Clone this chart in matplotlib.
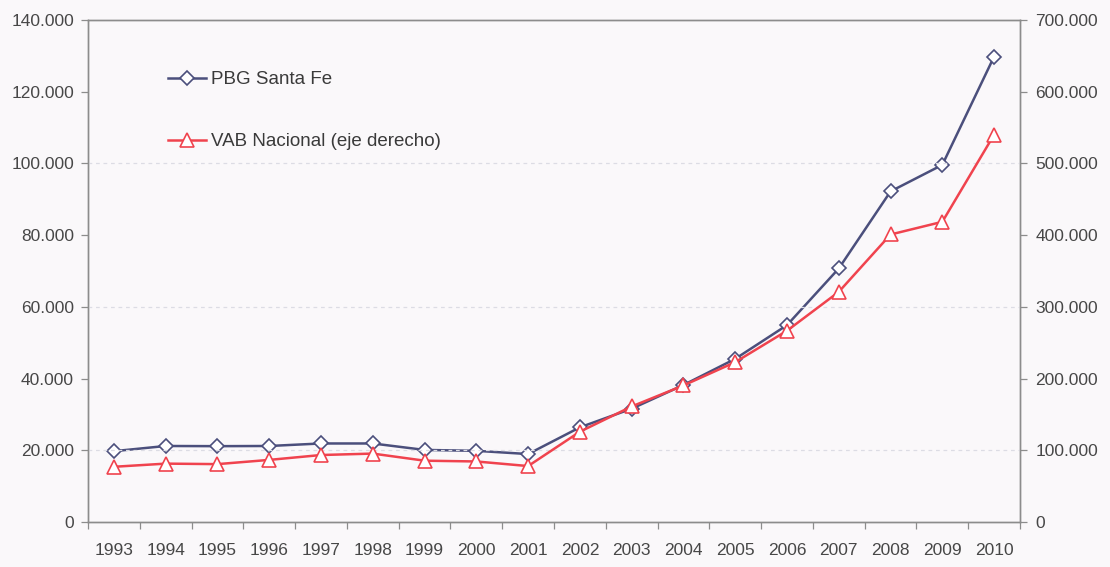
import matplotlib
matplotlib.use("Agg")
import matplotlib.pyplot as plt
from matplotlib.ticker import FuncFormatter, FixedLocator, NullFormatter

years = ["1993", "1994", "1995", "1996", "1997", "1998", "1999", "2000", "2001",
         "2002", "2003", "2004", "2005", "2006", "2007", "2008", "2009", "2010"]
pbg_santa_fe = [19750, 21200, 21150, 21200, 21900, 21900, 20100, 19850, 18950,
                26400, 31600, 38200, 45500, 54900, 70700, 92200, 99600, 129800]
vab_nacional = [77000, 81400, 80700, 86600, 93400, 95400, 85500, 84400, 78000,
                125900, 161100, 190400, 222900, 266700, 320900, 400900, 418600, 540100]
left_ticks = [0, 20000, 40000, 60000, 80000, 100000, 120000, 140000]
right_ticks = [0, 100000, 200000, 300000, 400000, 500000, 600000, 700000]
faint_grid = [100000, 300000, 500000]
label_pbg = "PBG Santa Fe"
label_vab = "VAB Nacional (eje derecho)"

plt.rcParams['font.family'] = ['Liberation Sans', 'DejaVu Sans']

W, H = 1110, 567
fig = plt.figure(figsize=(W / 100, H / 100), dpi=100)
bg = '#faf8fa'
fig.patch.set_facecolor(bg)
ax = fig.add_axes([88 / W, 1 - 522 / H, (1020 - 88) / W, (522 - 20) / H])
ax.set_facecolor(bg)
ax2 = ax.twinx()

x = list(range(len(years)))
txt = '#474747'
spine_c = '#8c8c8c'

for v in faint_grid:
    ax2.axhline(v, color='#dcdce4', lw=0.9, ls=(0, (3, 3)), zorder=0)

l1, = ax.plot(x, pbg_santa_fe, color='#4b4f7c', lw=1.8, marker='D', markersize=7.5,
              markerfacecolor='white', markeredgecolor='#4b4f7c', markeredgewidth=1.2,
              label=label_pbg, zorder=3)
l2, = ax2.plot(x, vab_nacional, color='#f0434e', lw=1.8, marker='^', markersize=10,
               markerfacecolor='white', markeredgecolor='#f0434e', markeredgewidth=1.2,
               label=label_vab, zorder=3)

ax.set_xlim(-0.5, len(years) - 0.5)
ax.set_ylim(0, 140000)
ax2.set_ylim(0, 700000)

fmt = FuncFormatter(lambda v, p: f"{int(round(v)):,}".replace(",", "."))
ax.yaxis.set_major_locator(FixedLocator(left_ticks))
ax.yaxis.set_major_formatter(fmt)
ax2.yaxis.set_major_locator(FixedLocator(right_ticks))
ax2.yaxis.set_major_formatter(fmt)

ax.xaxis.set_major_locator(FixedLocator([i - 0.5 for i in range(len(years) + 1)]))
ax.xaxis.set_major_formatter(NullFormatter())
ax.xaxis.set_minor_locator(FixedLocator(x))
ax.set_xticklabels(years, minor=True)
ax.tick_params(axis='x', which='major', length=5, width=0.9, color=spine_c, direction='out')
ax.tick_params(axis='x', which='minor', length=0, pad=15, labelsize=12.5, labelcolor=txt)
ax.tick_params(axis='y', length=5, width=0.9, color=spine_c, direction='out',
               labelsize=12.5, labelcolor=txt, pad=5)
ax2.tick_params(axis='y', length=5, width=0.9, color=spine_c, direction='out',
                labelsize=12.5, labelcolor=txt, pad=6)

for a in (ax, ax2):
    for s in a.spines.values():
        s.set_color(spine_c)
        s.set_linewidth(1.0)

leg = ax2.legend(handles=[l1, l2], loc='upper left',
                 bbox_to_anchor=(168 / W, 1 - 71 / H), bbox_transform=fig.transFigure,
                 frameon=False, fontsize=13.5, handlelength=2.0, handletextpad=0.3,
                 labelspacing=2.4, borderpad=0, borderaxespad=0)
for t in leg.get_texts():
    t.set_color('#3a3a3a')

fig.savefig("out.png", dpi=100, facecolor=bg)
